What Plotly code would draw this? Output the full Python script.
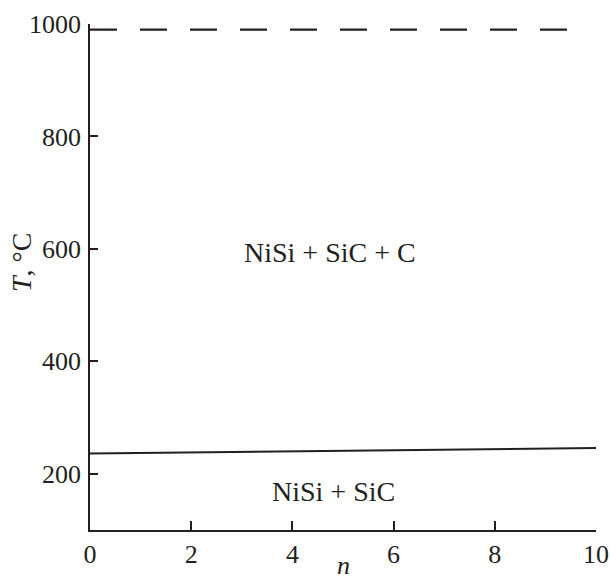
import plotly.graph_objects as go

# Phase boundaries of the Ni–Si–C system vs. n
n_boundary = [0, 10]
t_boundary = [236, 246]

n_upper = [0, 9.62]
t_upper = [990, 990]

# Region labels
region_labels = ["NiSi + SiC + C", "NiSi + SiC"]
region_n = [4.75, 4.81]
region_t = [594, 168]

x_ticks = [0, 2, 4, 6, 8, 10]
y_ticks = [200, 400, 600, 800, 1000]

ink = "#231f20"
serif = "Liberation Serif"
tick_font = dict(family=serif, size=26, color=ink)

fig = go.Figure()
fig.add_trace(go.Scatter(x=n_boundary, y=t_boundary, mode="lines",
                         line=dict(color=ink, width=2), showlegend=False))
fig.add_trace(go.Scatter(x=n_upper, y=t_upper, mode="lines",
                         line=dict(color=ink, width=2.4, dash="27px,23px"),
                         showlegend=False))

for txt, xv, yv in zip(region_labels, region_n, region_t):
    fig.add_annotation(x=xv, y=yv, text=txt, showarrow=False,
                       font=dict(family=serif, size=28, color=ink))

fig.add_annotation(x=-0.135, y=0.529, xref="paper", yref="paper",
                   xanchor="center", yanchor="middle",
                   text="<i>T</i>, °C", textangle=-90, showarrow=False,
                   font=dict(family=serif, size=28, color=ink))
fig.add_annotation(x=0.5, y=-0.1005, xref="paper", yref="paper",
                   xanchor="center", yanchor="bottom", borderpad=0,
                   text="<i>n</i>", showarrow=False,
                   font=dict(family=serif, size=26, color=ink))

fig.update_layout(
    width=611, height=581,
    margin=dict(l=90, r=15, t=24, b=51, autoexpand=False),
    paper_bgcolor="white", plot_bgcolor="white",
    font=dict(family=serif, size=26, color=ink),
)
fig.update_xaxes(range=[0, 10], tickvals=x_ticks, ticks="inside", ticklen=9,
                 tickwidth=1.5, tickcolor=ink, showline=True, linecolor=ink,
                 linewidth=1.8, showgrid=False, zeroline=False,
                 tickfont=tick_font, automargin=False, ticklabelstandoff=0)
fig.update_yaxes(range=[100, 1000], tickvals=y_ticks, ticks="inside", ticklen=8,
                 tickwidth=1.5, tickcolor=ink, showline=True, linecolor=ink,
                 linewidth=1.8, showgrid=False, zeroline=False,
                 tickfont=tick_font, automargin=False, ticklabelstandoff=2)

fig.write_html("out.html")
